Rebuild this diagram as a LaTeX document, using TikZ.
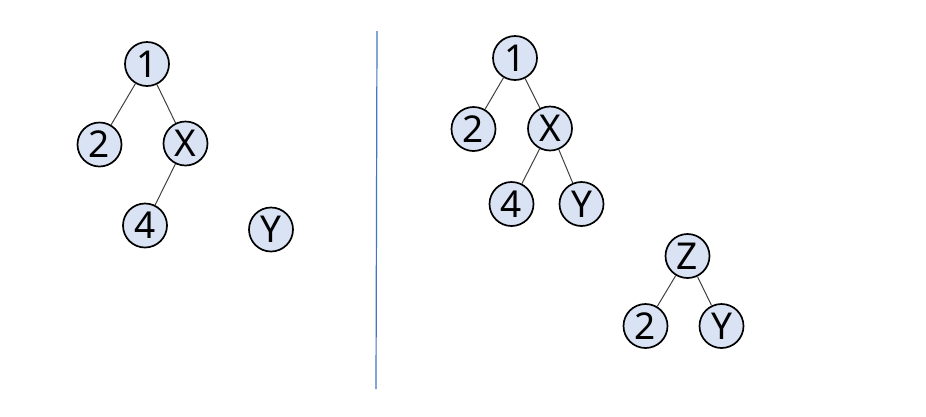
\documentclass[tikz,border=0pt]{standalone}
\usepackage{fontspec}
\setmainfont{Noto Sans}
\definecolor{nodefill}{HTML}{DAE3F3}
\definecolor{edgecol}{HTML}{404040}
\definecolor{divcol}{HTML}{4472C4}
\begin{document}
\begin{tikzpicture}[x=1pt,y=-1pt,
  tn/.style={circle,draw=black,line width=1.7pt,fill=nodefill,minimum size=44pt,inner sep=0pt,
    font=\fontsize{37}{37}\selectfont},
  te/.style={draw=edgecol,line width=1pt}]
\useasboundingbox (0,0) rectangle (926,416);
% left tree
\node[tn] (l1) at (147,64) {1};
\node[tn] (l2) at (99.5,144.5) {2};
\node[tn] (lX) at (185.5,143.5) {X};
\node[tn] (l4) at (145,225.5) {4};
\node[tn] (lY) at (271,229.5) {Y};
\draw[te] (l1) -- (l2);
\draw[te] (l1) -- (lX);
\draw[te] (lX) -- (l4);
% divider
\coordinate (dtop) at (377,31);
\coordinate (dbot) at (376,389);
\draw[divcol,line width=1.2pt] (dtop) -- (dbot);
% right tree
\node[tn] (r1) at (515,58) {1};
\node[tn] (r2) at (473.5,129) {2};
\node[tn] (rX) at (550,128.5) {X};
\node[tn] (r4) at (511.5,204) {4};
\node[tn] (rY) at (581.5,204) {Y};
\draw[te] (r1) -- (r2);
\draw[te] (r1) -- (rX);
\draw[te] (rX) -- (r4);
\draw[te] (rX) -- (rY);
% Z tree
\node[tn] (zZ) at (687.5,256) {Z};
\node[tn] (z2) at (645.5,326) {2};
\node[tn] (zY) at (721.5,326) {Y};
\draw[te] (zZ) -- (z2);
\draw[te] (zZ) -- (zY);
\end{tikzpicture}
\end{document}
